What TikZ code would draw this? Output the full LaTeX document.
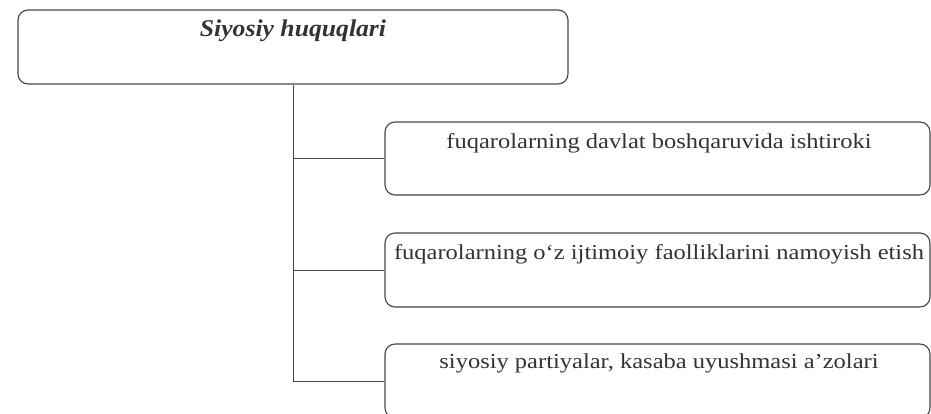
\documentclass[tikz,border=0pt]{standalone}
\usepackage{fontspec}
\usepackage{graphicx}
\setmainfont{Liberation Serif}
\definecolor{linegray}{HTML}{454545}
\definecolor{textgray}{HTML}{333333}
\tikzset{
  box/.style={draw=linegray, line width=1.1pt, rounded corners=10pt, inner sep=0pt, fill=white},
  conn/.style={draw=linegray, line width=1pt},
  bodytext/.style={anchor=base, inner sep=0pt, text=textgray, font=\fontsize{21.3}{24}\selectfont},
  titletext/.style={anchor=base, inner sep=0pt, text=textgray, font=\fontsize{24}{28}\selectfont\bfseries\itshape},
}
\begin{document}
\begin{tikzpicture}[x=1pt,y=1pt]
\useasboundingbox (0,0) rectangle (931,-413);
\clip (0,0) rectangle (931,-413);
% boxes
\node[box, minimum width=550pt, minimum height=74pt] (top) at (293,-47) {};
\node[box, minimum width=545pt, minimum height=73pt] (c1) at (657.5,-158.5) {};
\node[box, minimum width=545pt, minimum height=74pt] (c2) at (657.5,-270) {};
\node[box, minimum width=545pt, minimum height=74pt] (c3) at (657.5,-381) {};
% texts
\node[titletext] (ttop) at (293,-36) {\scalebox{1.07}[1]{Siyosiy huquqlari}};
\node[bodytext] (t1) at (659,-148) {\scalebox{1.15}[1]{fuqarolarning davlat boshqaruvida ishtiroki}};
\node[bodytext] (t2) at (659,-259) {\scalebox{1.15}[1]{fuqarolarning o‘z ijtimoiy faolliklarini namoyish etish}};
\node[bodytext] (t3) at (659,-368) {\scalebox{1.15}[1]{siyosiy partiyalar, kasaba uyushmasi a’zolari}};
% connectors
\draw[conn] (top.south) |- (c3.west);
\draw[conn] (top.south |- c1.west) -- (c1.west);
\draw[conn] (top.south |- c2.west) -- (c2.west);
\end{tikzpicture}
\end{document}
